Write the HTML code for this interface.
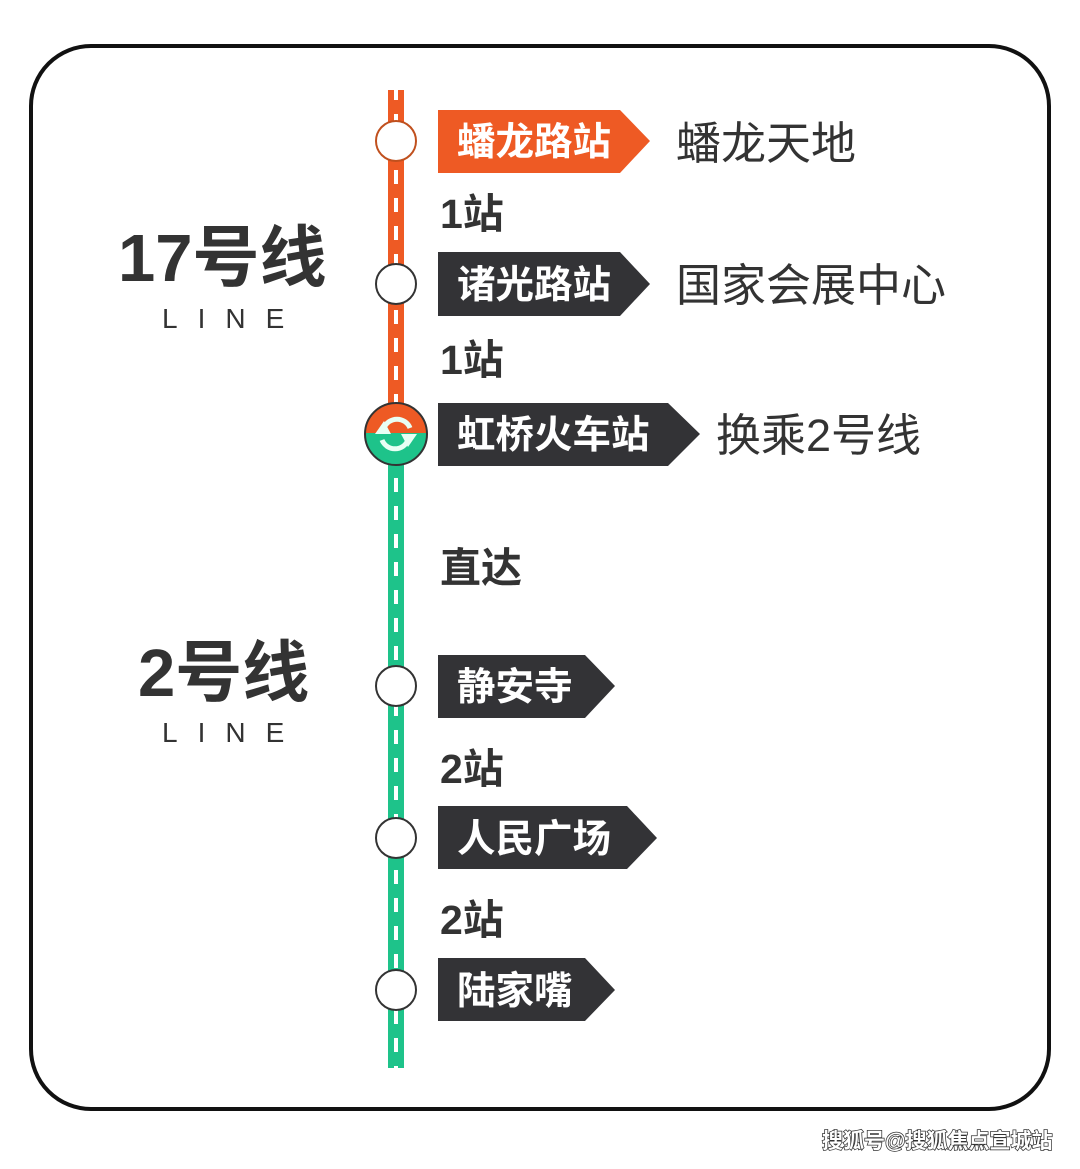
<!DOCTYPE html>
<html><head><meta charset="utf-8"><style>
body{margin:0;background:#fff;}
svg text{font-family:"Liberation Sans","Noto Sans CJK SC",sans-serif;}
</style></head><body>
<svg width="1080" height="1164" viewBox="0 0 1080 1164" xmlns="http://www.w3.org/2000/svg">
<rect x="0" y="0" width="1080" height="1164" fill="#fff"/>
<rect x="31" y="46" width="1018" height="1063" rx="60" fill="#fff" stroke="#111" stroke-width="4"/>
<rect x="388" y="90" width="16" height="340" fill="#ee5a24"/>
<rect x="388" y="440" width="16" height="628" fill="#1ec38a"/>
<line x1="396" y1="90" x2="396" y2="1068" stroke="#fff" stroke-width="4" stroke-dasharray="14,14" stroke-dashoffset="4"/>
<g stroke-width="2" fill="#fff">
<circle cx="396" cy="141" r="20" stroke="#c0501e"/>
<circle cx="396" cy="284" r="20" stroke="#333"/>
<circle cx="396" cy="686" r="20" stroke="#333"/>
<circle cx="396" cy="838" r="20" stroke="#333"/>
<circle cx="396" cy="990" r="20" stroke="#333"/>
</g>
<clipPath id="c"><circle cx="396" cy="434" r="31"/></clipPath>
<g clip-path="url(#c)">
<rect x="360" y="400" width="80" height="33" fill="#ee5a24"/>
<rect x="360" y="433" width="80" height="40" fill="#1ec38a"/>
</g>
<circle cx="396" cy="434" r="31" fill="none" stroke="#333" stroke-width="2"/>
<path d="M384 428 A14 14 0 0 1 410 428" fill="none" stroke="#e8fff4" stroke-width="5"/>
<path d="M382 440 A14 14 0 0 0 408 440" fill="none" stroke="#e8fff4" stroke-width="5"/>
<polygon points="375,434 384,421 391,434" fill="#e8fff4"/>
<polygon points="401,434 417,434 408,447" fill="#e8fff4"/>
<polygon points="438,110 620,110 650,141 620,173 438,173" fill="#ee5a24"/>
<polygon points="438,252 620,252 650,284 620,316 438,316" fill="#333336"/>
<polygon points="438,403 668,403 700,434 668,466 438,466" fill="#333336"/>
<polygon points="438,655 585,655 615,686 585,718 438,718" fill="#333336"/>
<polygon points="438,806 627,806 657,838 627,869 438,869" fill="#333336"/>
<polygon points="438,958 585,958 615,990 585,1021 438,1021" fill="#333336"/>
<g fill="#fff" font-weight="bold" font-size="38.5">
<text x="457" y="155">蟠龙路站</text>
<text x="457" y="298">诸光路站</text>
<text x="457" y="448">虹桥火车站</text>
<text x="457" y="700">静安寺</text>
<text x="457" y="852">人民广场</text>
<text x="457" y="1004">陆家嘴</text>
</g>
<g fill="#333" font-size="45">
<text x="676" y="159">蟠龙天地</text>
<text x="676" y="301">国家会展中心</text>
<text x="716" y="451">换乘2号线</text>
</g>
<g fill="#333" font-weight="bold" font-size="41">
<text x="440" y="228">1站</text>
<text x="440" y="374">1站</text>
<text x="440" y="582">直达</text>
<text x="440" y="783">2站</text>
<text x="440" y="934">2站</text>
</g>
<g fill="#333" font-weight="bold" font-size="67">
<text x="118" y="281">17号线</text>
<text x="138" y="696">2号线</text>
</g>
<g fill="#333" font-size="28" letter-spacing="20">
<text x="162" y="328">LINE</text>
<text x="162" y="742">LINE</text>
</g>
<text x="822" y="1148" font-size="21" font-weight="bold" fill="#fff" stroke="#333" stroke-width="1.5" paint-order="stroke">搜狐号@搜狐焦点宣城站</text>
</svg>
</body></html>
